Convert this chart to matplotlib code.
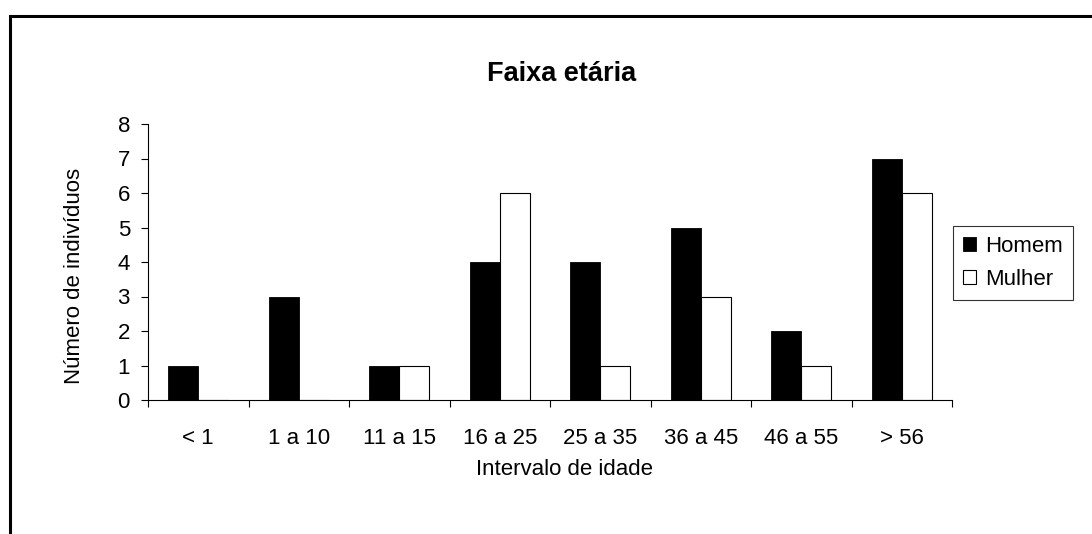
import matplotlib
matplotlib.use("Agg")
import matplotlib.pyplot as plt
import numpy as np
from matplotlib.patches import Rectangle

plt.rcParams["font.family"] = ["Liberation Sans", "DejaVu Sans"]

faixas = ["< 1", "1 a 10", "11 a 15", "16 a 25", "25 a 35", "36 a 45", "46 a 55", "> 56"]
homem = [1, 3, 1, 4, 4, 5, 2, 7]
mulher = [0, 0, 1, 6, 1, 3, 1, 6]

W, H = 1092, 534
fig = plt.figure(figsize=(W / 100, H / 100), dpi=100)
ax = fig.add_axes([148 / W, 1 - 400 / H, (952 - 148) / W, (400 - 124) / H])

# moldura externa (sai da imagem à direita e em baixo)
fig.patches.append(Rectangle((10 / W, -0.1), 1.2, 1 - 16 / H + 0.1,
                             transform=fig.transFigure, fill=False,
                             edgecolor="black", linewidth=2.2))

x = np.arange(len(faixas))
bw = 0.3
ax.bar(x - bw / 2, homem, bw, color="black", edgecolor="black",
       linewidth=0.6, label="Homem")
ax.bar(x + bw / 2, mulher, bw, color="white", edgecolor="black",
       linewidth=0.8, label="Mulher")

ax.set_xlim(-0.5, len(faixas) - 0.5)
ax.set_ylim(0, 8)
ax.set_yticks(range(0, 9))
ax.set_xticks(x)
ax.set_xticklabels(faixas)
ax.set_xticks(np.arange(-0.5, len(faixas)), minor=True)
ax.tick_params(axis="x", which="major", length=0, pad=20, labelsize=16)
ax.tick_params(axis="x", which="minor", length=5, width=0.8, direction="out")
ax.tick_params(axis="y", length=5, width=0.8, direction="out", pad=8, labelsize=16)

for s in ["top", "right"]:
    ax.spines[s].set_visible(False)
for s in ["left", "bottom"]:
    ax.spines[s].set_linewidth(0.8)

fig.text(565 / W, 1 - 475 / H, "Intervalo de idade", ha="center",
         va="baseline", fontsize=16)
fig.text(75 / W, 1 - 276 / H, "Número de indivíduos", ha="center",
         va="center", rotation=90, fontsize=16)
fig.text(562 / W, 1 - 81 / H, "Faixa etária", ha="center", va="baseline",
         fontsize=19.5, fontweight="bold")

leg = fig.legend(loc="upper left", bbox_to_anchor=(953 / W, 1 - 226 / H),
                 fontsize=16, frameon=True, fancybox=False, edgecolor="black",
                 handlelength=0.6, handleheight=0.6, handletextpad=0.4,
                 borderpad=0.45, labelspacing=0.55, borderaxespad=0)
leg.get_frame().set_linewidth(0.8)

fig.savefig("out.png", dpi=100)
